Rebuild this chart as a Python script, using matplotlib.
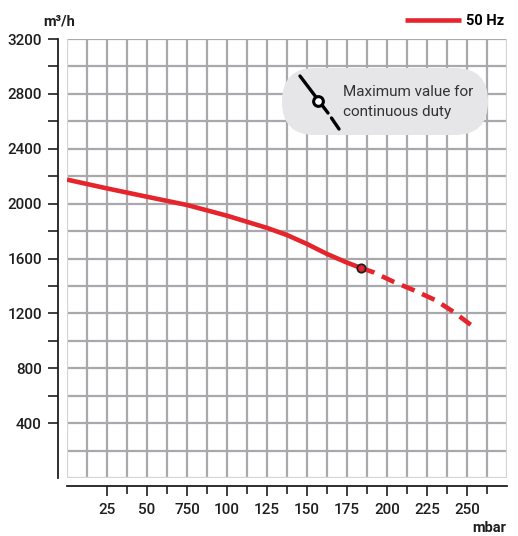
import numpy as np
import matplotlib
matplotlib.use("Agg")
import matplotlib.pyplot as plt
from matplotlib.patches import FancyBboxPatch
from matplotlib.lines import Line2D

plt.rcParams['font.family'] = ['Roboto', 'DejaVu Sans']

# flow curve, 50 Hz (pressure in mbar -> flow in m3/h)
pressure_solid = [0, 25, 50, 75, 100, 125, 137.5, 150, 162.5, 175, 184]
flow_solid = [2175, 2111, 2050, 1990, 1912, 1823, 1771, 1706, 1633, 1570, 1530]
pressure_dashed = [184, 191.5, 204, 216.5, 230, 242, 251, 254.5]
flow_dashed = [1530, 1500, 1431, 1370, 1298, 1208, 1128, 1100]
max_point = (184, 1530)

x_major = [25, 50, 75, 100, 125, 150, 175, 200, 225, 250]
x_labels = ['25', '50', '750', '100', '125', '150', '175', '200', '225', '250']
y_major = [400, 800, 1200, 1600, 2000, 2400, 2800, 3200]

RED = '#e5252b'
GRID = '#a9a9ad'
INK = '#1e1e1e'

fig = plt.figure(figsize=(5.18, 5.36), dpi=100)
ax = fig.add_axes([67 / 518, 58 / 536, 440 / 518, 439 / 536])
ax.set_xlim(0, 275)
ax.set_ylim(0, 3200)

# grid
for gx in np.arange(12.5, 275, 12.5):
    ax.axvline(gx, color=GRID, lw=1.6, zorder=1)
for gy in np.arange(200, 3201, 200):
    ax.axhline(gy, color=GRID, lw=1.6, zorder=1)
ax.axvline(0, color='#d4d4d6', lw=1.6, zorder=1)
ax.axvline(275, color='#d4d4d6', lw=1.6, zorder=1)
ax.axhline(0, color='#d4d4d6', lw=1.6, zorder=1)

ax.plot(pressure_solid, flow_solid, color=RED, lw=3.3, solid_capstyle='butt', zorder=3, label='50 Hz')
ax.plot(pressure_dashed, flow_dashed, color=RED, lw=3.3, ls=(0, (3, 1.8)), zorder=3)
ax.plot(*max_point, 'o', ms=6, mfc=RED, mec=INK, mew=1.3, zorder=4)

for side in ['top', 'right']:
    ax.spines[side].set_visible(False)
ax.spines['left'].set_position(('outward', 6.5))
ax.spines['left'].set_bounds(0, 3200)
ax.spines['bottom'].set_position(('outward', 6))
ax.spines['bottom'].set_bounds(0, 275)
for side in ['left', 'bottom']:
    ax.spines[side].set_linewidth(1.3)
    ax.spines[side].set_color(INK)

ax.set_xticks(x_major)
ax.set_xticklabels(x_labels)
ax.set_xticks(np.arange(37.5, 265, 25), minor=True)
ax.set_yticks(y_major)
ax.set_yticks(np.arange(600, 3001, 400), minor=True)
ax.tick_params(axis='both', which='both', width=1.2, color=INK, labelcolor=INK, labelsize=11)
ax.tick_params(axis='x', which='major', length=7.5, pad=4.5)
ax.tick_params(axis='x', which='minor', length=5.5)
ax.tick_params(axis='y', which='both', length=7.5, pad=4)
for lab in ax.get_xticklabels() + ax.get_yticklabels():
    lab.set_fontweight('medium')

ax.legend(loc='upper right', bbox_to_anchor=(514 / 518, 1 - 4 / 536), bbox_transform=fig.transFigure,
          frameon=False, handlelength=3.8, handletextpad=0.35,
          borderpad=0.2, prop={'weight': 'bold', 'size': 10.5})

# decoration layer in pixel coordinates
deco = fig.add_axes([0, 0, 1, 1], zorder=5)
deco.set_xlim(0, 518)
deco.set_ylim(536, 0)
deco.axis('off')

deco.text(43, 22, 'm³/h', fontsize=10.5, fontweight='bold', color=INK, va='center', ha='left')
deco.text(506, 528, 'mbar', fontsize=10.5, fontweight='bold', color=INK, va='center', ha='right')

box = FancyBboxPatch((282, 68), 206, 67, boxstyle='round,pad=0,rounding_size=33',
                     fc='#e6e6e8', ec='none')
deco.add_patch(box)
deco.add_line(Line2D([300, 328], [76, 113], color='black', lw=2.4, solid_capstyle='round'))
deco.add_line(Line2D([331.5, 339], [118, 129], color='black', lw=2.4, solid_capstyle='round'))
deco.plot(318, 101, 'o', ms=7, mfc='white', mec='black', mew=2.2)
deco.text(343, 92, 'Maximum value for', fontsize=11, color='#333333', va='center', ha='left')
deco.text(343, 112, 'continuous duty', fontsize=11, color='#333333', va='center', ha='left')

fig.savefig('out.png', dpi=100)
